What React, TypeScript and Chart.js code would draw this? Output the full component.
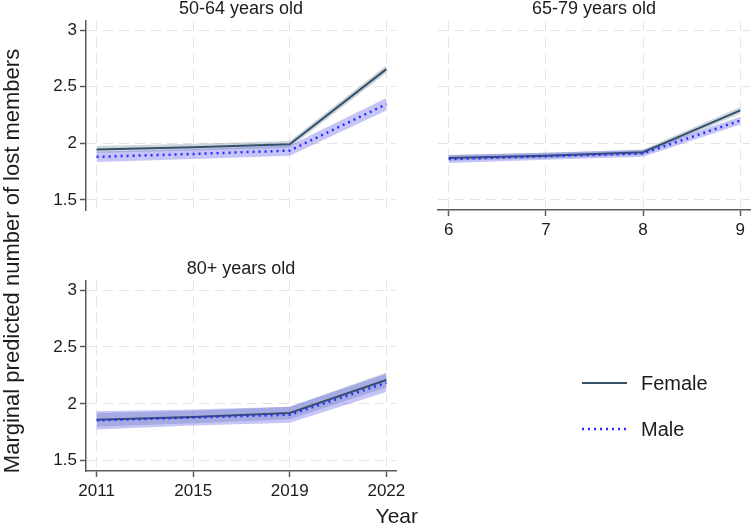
import React, { useEffect, useRef } from 'react';
import { Chart, registerables } from 'chart.js';

Chart.register(...registerables);

// Category labels on the x axes
const yearLabels = ['2011', '2015', '2019', '2022'];
const groupLabels = ['6', '7', '8', '9'];
const yTicks = [1.5, 2, 2.5, 3];

// 50-64 years old
const female5064 = [1.945, 1.965, 1.99, 2.655];
const female5064Lo = [1.915, 1.935, 1.96, 2.62];
const female5064Hi = [1.975, 1.995, 2.02, 2.69];
const male5064 = [1.88, 1.905, 1.935, 2.345];
const male5064Lo = [1.835, 1.86, 1.89, 2.29];
const male5064Hi = [1.925, 1.95, 1.98, 2.4];

// 65-79 years old
const female6579 = [1.87, 1.89, 1.92, 2.29];
const female6579Lo = [1.845, 1.865, 1.895, 2.26];
const female6579Hi = [1.895, 1.915, 1.945, 2.32];
const male6579 = [1.86, 1.885, 1.91, 2.2];
const male6579Lo = [1.825, 1.855, 1.88, 2.165];
const male6579Hi = [1.895, 1.915, 1.94, 2.235];

// 80+ years old
const female80 = [1.86, 1.885, 1.92, 2.21];
const female80Lo = [1.8, 1.83, 1.865, 2.145];
const female80Hi = [1.92, 1.94, 1.975, 2.275];
const male80 = [1.855, 1.88, 1.905, 2.185];
const male80Lo = [1.775, 1.81, 1.835, 2.105];
const male80Hi = [1.935, 1.95, 1.975, 2.265];

const W = 751;
const H = 527;
const FONT = 'Arial, "Liberation Sans", Helvetica, sans-serif';
const TEXT = '#1c1c1c';
const AXIS = '#5a5a5a';
const GRID = '#e4e4e4';
const FEMALE = '#35506a';
const MALE = '#2b2bff';
const FEMALE_BAND = 'rgba(100, 128, 150, 0.32)';
const MALE_BAND = 'rgba(95, 95, 235, 0.36)';

type Box = { left: number; right: number; top: number; bottom: number };

type PanelSpec = {
  title: string;
  box: Box;
  xLabels: string[];
  showX: boolean;
  showY: boolean;
  female: number[];
  femaleLo: number[];
  femaleHi: number[];
  male: number[];
  maleLo: number[];
  maleHi: number[];
  shared?: boolean;
};

const Y_AXIS_W = 60;
const X_AXIS_H = 40;

const pts = (arr: number[]) => arr.map((v, i) => ({ x: i, y: v }));

// Panel title, plus the shared axis titles and legend on one of the panels
const panelText = {
  id: 'panelText',
  afterDraw(chart: any, _args: any, opts: any) {
    const { ctx, chartArea } = chart;
    ctx.save();
    ctx.fillStyle = TEXT;
    ctx.font = `18px ${FONT}`;
    ctx.textAlign = 'center';
    ctx.textBaseline = 'middle';
    ctx.fillText(opts.title, (chartArea.left + chartArea.right) / 2, chartArea.top - 12);

    if (opts.shared) {
      // y axis title
      ctx.save();
      ctx.translate(13, 261);
      ctx.rotate(-Math.PI / 2);
      ctx.font = `22px ${FONT}`;
      ctx.fillText('Marginal predicted number of lost members', 0, 0);
      ctx.restore();

      // x axis title
      ctx.font = `21px ${FONT}`;
      ctx.textAlign = 'right';
      ctx.fillText('Year', 418, 517);

      // legend
      const lx0 = 582;
      const lx1 = 627;
      ctx.lineWidth = 2;
      ctx.strokeStyle = FEMALE;
      ctx.beginPath();
      ctx.moveTo(lx0, 383);
      ctx.lineTo(lx1, 383);
      ctx.stroke();
      ctx.lineWidth = 2.5;
      ctx.strokeStyle = MALE;
      ctx.setLineDash([2, 4]);
      ctx.beginPath();
      ctx.moveTo(lx0, 429);
      ctx.lineTo(lx1, 429);
      ctx.stroke();
      ctx.setLineDash([]);
      ctx.font = `20px ${FONT}`;
      ctx.textAlign = 'left';
      ctx.fillStyle = TEXT;
      ctx.fillText('Female', 641, 384);
      ctx.fillText('Male', 641, 430);
    }
    ctx.restore();
  },
};

function makeConfig(p: PanelSpec): any {
  const yW = p.showY ? Y_AXIS_W : 0;
  const xH = p.showX ? X_AXIS_H : 0;
  const tickFont = { family: FONT, size: 17 };
  const hidden = 'rgba(0,0,0,0)';
  return {
    type: 'line',
    data: {
      datasets: [
        {
          label: 'Male',
          data: pts(p.male),
          borderColor: MALE,
          borderWidth: 2.5,
          borderDash: [2, 4],
          pointRadius: 0,
          fill: false,
        },
        {
          label: 'Female',
          data: pts(p.female),
          borderColor: FEMALE,
          borderWidth: 2,
          pointRadius: 0,
          fill: false,
        },
        { label: 'Male upper', data: pts(p.maleHi), borderColor: hidden, borderWidth: 1, pointRadius: 0, fill: false },
        {
          label: 'Male lower',
          data: pts(p.maleLo),
          borderColor: hidden,
          borderWidth: 1,
          pointRadius: 0,
          fill: '-1',
          backgroundColor: MALE_BAND,
        },
        { label: 'Female upper', data: pts(p.femaleHi), borderColor: hidden, borderWidth: 1, pointRadius: 0, fill: false },
        {
          label: 'Female lower',
          data: pts(p.femaleLo),
          borderColor: hidden,
          borderWidth: 1,
          pointRadius: 0,
          fill: '-1',
          backgroundColor: FEMALE_BAND,
        },
      ],
    },
    options: {
      responsive: false,
      animation: false,
      events: [],
      layout: {
        padding: {
          left: p.box.left - yW,
          right: W - p.box.right,
          top: p.box.top,
          bottom: H - p.box.bottom - xH,
        },
      },
      elements: { line: { tension: 0 } },
      plugins: {
        legend: { display: false },
        tooltip: { enabled: false },
        panelText: { title: p.title, shared: !!p.shared },
      },
      scales: {
        x: {
          type: 'linear',
          min: -0.11,
          max: 3.1,
          afterBuildTicks: (s: any) => {
            s.ticks = [0, 1, 2, 3].map((v) => ({ value: v }));
          },
          afterFit: (s: any) => {
            s.height = xH;
            s.paddingLeft = 0;
            s.paddingRight = 0;
          },
          ticks: {
            display: p.showX,
            autoSkip: false,
            maxRotation: 0,
            padding: 4,
            color: TEXT,
            font: tickFont,
            callback: (v: number) => p.xLabels[v],
          },
          grid: {
            color: GRID,
            lineWidth: 1,
            drawTicks: p.showX,
            tickLength: 6,
            tickColor: AXIS,
            tickWidth: 1.5,
          },
          border: { display: p.showX, color: AXIS, width: 1.5, dash: [10, 6] },
        },
        y: {
          type: 'linear',
          min: 1.41,
          max: 3.08,
          afterBuildTicks: (s: any) => {
            s.ticks = yTicks.map((v) => ({ value: v }));
          },
          afterFit: (s: any) => {
            s.width = yW;
            s.paddingTop = 0;
            s.paddingBottom = 0;
          },
          ticks: {
            display: p.showY,
            padding: 3,
            color: TEXT,
            font: tickFont,
            callback: (v: number) => String(v),
          },
          grid: {
            color: GRID,
            lineWidth: 1,
            drawTicks: p.showY,
            tickLength: 6,
            tickColor: AXIS,
            tickWidth: 1.5,
          },
          border: { display: p.showY, color: AXIS, width: 1.5, dash: [10, 6] },
        },
      },
    },
    plugins: [panelText],
  };
}

const panels: PanelSpec[] = [
  {
    title: '50-64 years old',
    box: { left: 86, right: 396, top: 21, bottom: 210 },
    xLabels: yearLabels,
    showX: false,
    showY: true,
    female: female5064,
    femaleLo: female5064Lo,
    femaleHi: female5064Hi,
    male: male5064,
    maleLo: male5064Lo,
    maleHi: male5064Hi,
  },
  {
    title: '65-79 years old',
    box: { left: 438, right: 750, top: 21, bottom: 210 },
    xLabels: groupLabels,
    showX: true,
    showY: false,
    female: female6579,
    femaleLo: female6579Lo,
    femaleHi: female6579Hi,
    male: male6579,
    maleLo: male6579Lo,
    maleHi: male6579Hi,
  },
  {
    title: '80+ years old',
    box: { left: 86, right: 396, top: 281, bottom: 471 },
    xLabels: yearLabels,
    showX: true,
    showY: true,
    female: female80,
    femaleLo: female80Lo,
    femaleHi: female80Hi,
    male: male80,
    maleLo: male80Lo,
    maleHi: male80Hi,
    shared: true,
  },
];

function Panel({ spec }: { spec: PanelSpec }) {
  const ref = useRef<HTMLCanvasElement | null>(null);
  useEffect(() => {
    if (!ref.current) return;
    const chart = new Chart(ref.current, makeConfig(spec));
    return () => chart.destroy();
  }, [spec]);
  return (
    <canvas
      ref={ref}
      width={W}
      height={H}
      style={{ position: 'absolute', left: 0, top: 0, width: W, height: H }}
    />
  );
}

export default function App() {
  useEffect(() => {
    document.body.style.margin = '0';
    document.body.style.background = '#ffffff';
  }, []);
  return (
    <div style={{ position: 'relative', width: W, height: H, background: '#ffffff', overflow: 'hidden' }}>
      {panels.map((p) => (
        <Panel key={p.title} spec={p} />
      ))}
    </div>
  );
}
